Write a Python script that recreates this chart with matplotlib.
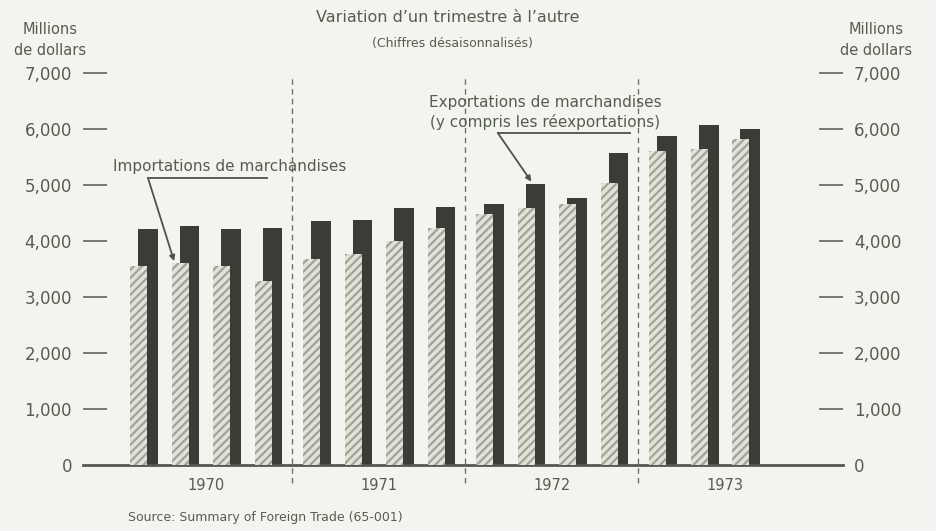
import numpy as np
import matplotlib
matplotlib.use("Agg")
import matplotlib.pyplot as plt

# quarterly values, millions of dollars, seasonally adjusted
years = ["1970", "1971", "1972", "1973"]
quarters_per_year = [4, 4, 4, 3]
imports = [3550, 3600, 3550, 3290, 3670, 3760, 4000, 4230,
           4480, 4590, 4660, 5040, 5610, 5640, 5820]
exports = [4210, 4270, 4210, 4230, 4360, 4380, 4590, 4610,
           4660, 5020, 4770, 5570, 5880, 6080, 6000]
yticks = [0, 1000, 2000, 3000, 4000, 5000, 6000, 7000]

bg = "#f3f4ef"
txt = "#555d4d"
dark = "#3b3c35"

plt.rcParams["font.family"] = ["DejaVu Sans"]
plt.rcParams["hatch.linewidth"] = 1.6

fig = plt.figure(figsize=(9.36, 5.31), dpi=100, facecolor=bg)
ax = fig.add_axes([83 / 936, 1 - 465 / 531, 760 / 936, 392 / 531])
ax.set_facecolor(bg)

# bar positions: one slot per quarter, small extra gap between years
year_gap = 0.17
pos = []
year_idx = []
for y, n in enumerate(quarters_per_year):
    for q in range(n):
        pos.append(len(pos) + y * year_gap)
        year_idx.append(y)
pos = np.array(pos)
year_idx = np.array(year_idx)
x_imp = pos - 0.22

ax.bar(pos, exports, width=0.48, color=dark, zorder=2)
ax.bar(x_imp, imports, width=0.41, color="#dfe3d8", edgecolor="#a0a498",
       hatch="////", linewidth=0, zorder=3)

ax.set_xlim(-1.566, 16.75)
ax.set_ylim(0, 7000)

# year separators
for y in range(1, len(years)):
    last = pos[year_idx == y - 1].max()
    first = x_imp[year_idx == y].min()
    ax.axvline((last + first) / 2, ymin=-0.046, ymax=0.995, color="#6e7268",
               lw=1.0, ls=(0, (4, 3)), clip_on=False, zorder=1)

# year labels centred on four quarter slots
for y, name in enumerate(years):
    c = y * 4 + 1.5 + y * year_gap - 0.11
    ax.text(c, -0.052, name, transform=ax.get_xaxis_transform(),
            ha="center", va="center", fontsize=10.5, color=txt)

for s in ["left", "right", "top"]:
    ax.spines[s].set_visible(False)
ax.spines["bottom"].set_color("#55584f")
ax.spines["bottom"].set_linewidth(2)
ax.set_xticks([])

ax.set_yticks(yticks)
ax.set_yticklabels([f"{v:,}" for v in yticks])
ax.tick_params(axis="y", direction="in", length=17, width=1.2, color="#5f6358",
               labelsize=12, labelcolor=txt, left=True, right=True,
               labelleft=True, labelright=True, pad=8)
ax.get_yticklines()[0].set_visible(False)
ax.get_yticklines()[1].set_visible(False)

# annotations
ax.annotate("", xy=(x_imp[1] - 0.15, imports[1] + 40), xytext=(0.0, 5125),
            arrowprops=dict(arrowstyle="-|>", color="#4c5446", lw=1.3,
                            mutation_scale=8, shrinkA=0, shrinkB=0))
ax.plot([0.0, 2.87], [5125, 5125], color="#4c5446", lw=1.3, clip_on=False)
ax.text(1.98, 5330, "Importations de marchandises", ha="center", va="center",
        fontsize=11, color=txt)

ax.annotate("", xy=(pos[9] - 0.1, exports[9] + 40), xytext=(8.43, 5930),
            arrowprops=dict(arrowstyle="-|>", color="#4c5446", lw=1.3,
                            mutation_scale=8, shrinkA=0, shrinkB=0))
ax.plot([8.43, 11.61], [5930, 5930], color="#4c5446", lw=1.3, clip_on=False)
ax.text(9.57, 6480, "Exportations de marchandises", ha="center", va="center",
        fontsize=11, color=txt)
ax.text(9.57, 6125, "(y compris les réexportations)", ha="center", va="center",
        fontsize=11, color=txt)

# titles and axis captions
fig.text(448 / 936, 1 - 18 / 531, "Variation d\u2019un trimestre à l\u2019autre",
         ha="center", va="center", fontsize=11.5, color=txt)
fig.text(452 / 936, 1 - 44 / 531, "(Chiffres désaisonnalisés)",
         ha="center", va="center", fontsize=9, color=txt)
fig.text(50 / 936, 1 - 40 / 531, "Millions\nde dollars", ha="center",
         va="center", fontsize=10.5, color=txt, linespacing=1.5)
fig.text(876 / 936, 1 - 40 / 531, "Millions\nde dollars", ha="center",
         va="center", fontsize=10.5, color=txt, linespacing=1.5)
fig.text(128 / 936, 1 - 517 / 531, "Source: Summary of Foreign Trade (65-001)",
         ha="left", va="center", fontsize=9, color=txt)

fig.savefig("out.png", dpi=100, facecolor=bg)
